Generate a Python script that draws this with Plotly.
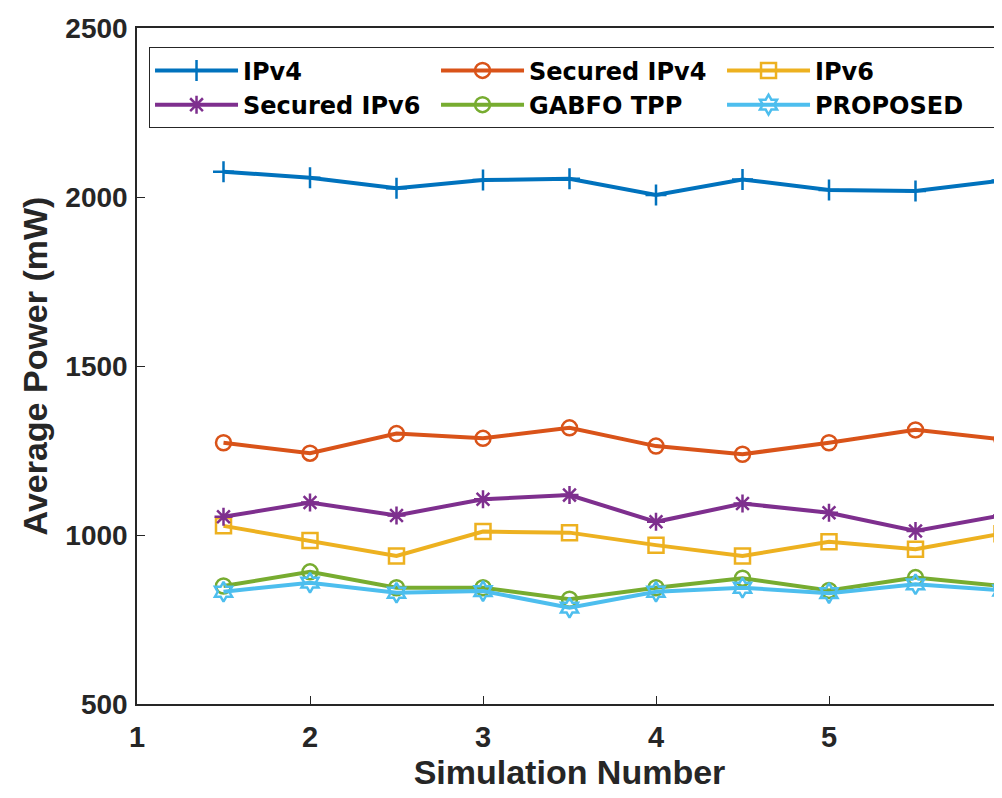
import plotly.graph_objects as go

sim_number = [1.5, 2, 2.5, 3, 3.5, 4, 4.5, 5, 5.5, 6]
ipv4 = [2075, 2057, 2026, 2050, 2054, 2006, 2052, 2021, 2018, 2049]
secured_ipv4 = [1273, 1242, 1300, 1286, 1317, 1263, 1239, 1273, 1311, 1283]
ipv6 = [1027, 984, 938, 1010, 1007, 970, 938, 980, 958, 1004]
secured_ipv6 = [1054, 1096, 1058, 1106, 1118, 1039, 1093, 1066, 1012, 1058]
gabfo_tpp = [849, 891, 844, 844, 810, 844, 872, 836, 874, 849]
proposed = [832, 859, 829, 834, 785, 832, 844, 828, 854, 836]

series = [
    ("IPv4", ipv4, "#0072BD", "cross-thin-open"),
    ("Secured IPv4", secured_ipv4, "#D95319", "circle-open"),
    ("IPv6", ipv6, "#EDB120", "square-open"),
    ("Secured IPv6", secured_ipv6, "#7E2F8E", "asterisk-open"),
    ("GABFO TPP", gabfo_tpp, "#77AC30", "circle-open"),
    ("PROPOSED", proposed, "#4DBEEE", "hexagram-open"),
]

FONT = "Liberation Sans, Arial, sans-serif"
LEGEND_FONT = "DejaVu Sans, Liberation Sans, sans-serif"

fig = go.Figure()
for name, vals, color, sym in series:
    fig.add_trace(go.Scatter(
        x=sim_number, y=vals, name=name, mode="lines+markers",
        line=dict(color=color, width=4),
        marker=dict(symbol=sym, size=15, color=color, line=dict(color=color, width=2.5)),
    ))

fig.update_layout(
    width=1002, height=798,
    margin=dict(l=129, r=8, t=20, b=102, autoexpand=False),
    paper_bgcolor="white", plot_bgcolor="white",
    font=dict(family=FONT, color="#262626"),
    showlegend=True,
    legend=dict(
        orientation="h", x=0.0139, y=0.9714, xanchor="left", yanchor="top",
        bordercolor="#262626", borderwidth=1, bgcolor="white",
        font=dict(family=LEGEND_FONT, size=24, color="black", weight="bold"),
        entrywidth=188, entrywidthmode="pixels", itemwidth=83,
        tracegroupgap=0,
    ),
)
fig.update_xaxes(
    range=[1, 6], tickvals=[1, 2, 3, 4, 5, 6], ticks="inside", ticklen=8,
    showgrid=False, zeroline=False, showline=True, linecolor="#262626", linewidth=1.5,
    mirror=True, tickcolor="#262626", automargin=False, ticklabeloverflow="allow",
    ticklabelstandoff=6,
    tickfont=dict(size=29, weight="bold", color="#262626"),
    title=dict(text="Simulation Number", font=dict(size=34, weight="bold", color="#262626"), standoff=0),
)
fig.update_yaxes(
    range=[500, 2500], tickvals=[500, 1000, 1500, 2000, 2500], ticks="inside", ticklen=8,
    showgrid=False, zeroline=False, showline=True, linecolor="#262626", linewidth=1.5,
    mirror=True, tickcolor="#262626", automargin=False, ticklabeloverflow="allow",
    ticklabelstandoff=2,
    tickfont=dict(size=28, weight="bold", color="#262626"),
    title=dict(text="Average Power (mW)", font=dict(size=34, weight="bold", color="#262626"), standoff=7),
)

fig.write_html("out.html")
